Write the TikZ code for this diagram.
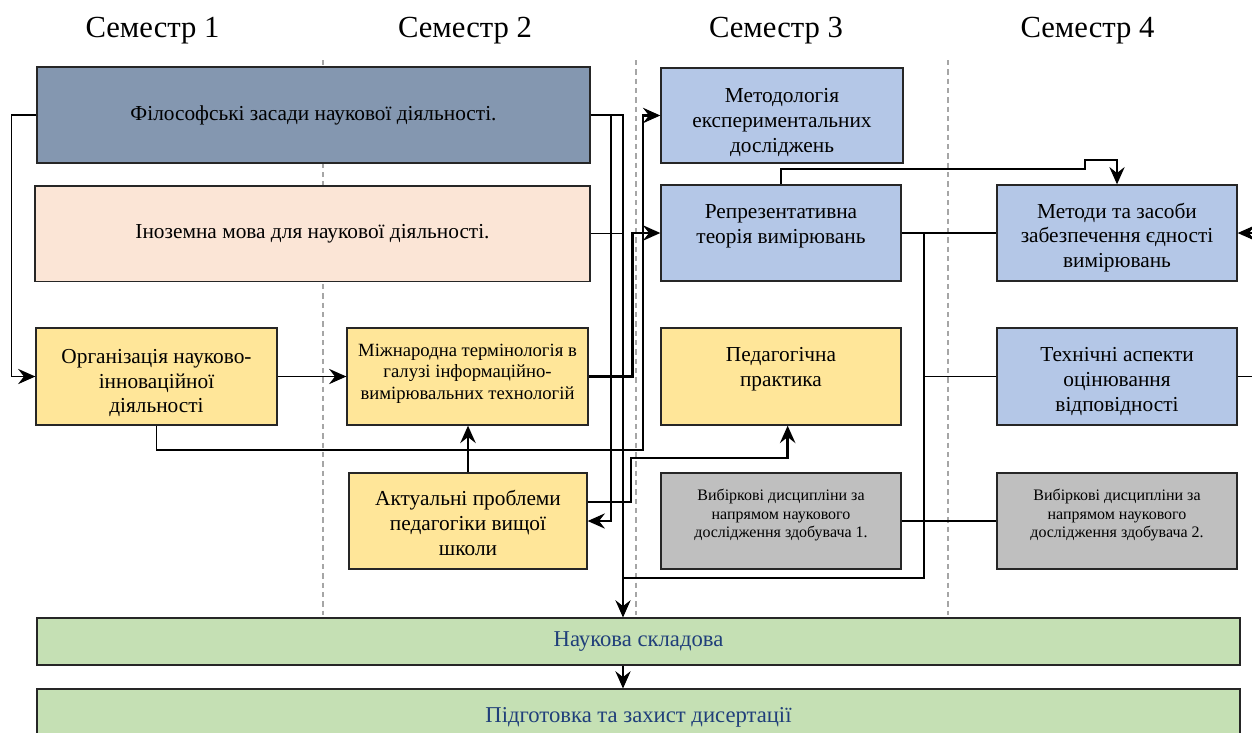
\documentclass[tikz,border=0pt]{standalone}
\usepackage{fontspec}
\setmainfont{Liberation Serif}
\usetikzlibrary{arrows.meta}
\definecolor{philc}{HTML}{8497B0}
\definecolor{forc}{HTML}{FBE5D6}
\definecolor{yelc}{HTML}{FFE699}
\definecolor{bluc}{HTML}{B4C7E7}
\definecolor{gryc}{HTML}{BFBFBF}
\definecolor{grnc}{HTML}{C5E0B4}
\definecolor{grntxt}{HTML}{203F7A}
\definecolor{edgec}{HTML}{262626}
\definecolor{dashc}{HTML}{A6A6A6}
\begin{document}
\begin{tikzpicture}[x=0.75pt,y=-0.75pt,
 box/.style={draw=edgec, line width=1pt, inner sep=0pt, minimum width=180pt, minimum height=72pt},
 wide/.style={box, minimum width=414.75pt, minimum height=71.5pt, font=\fontsize{16}{18.5}\selectfont},
 band/.style={draw=edgec, line width=0.8pt, fill=grnc, inner sep=0pt, minimum width=902.25pt, text=grntxt, font=\fontsize{17}{20}\selectfont},
 txt/.style={inner sep=0pt, align=center, font=\fontsize{16}{18.5}\selectfont},
 txtm/.style={txt, font=\fontsize{14}{16}\selectfont},
 txts/.style={txt, font=\fontsize{12}{14.2}\selectfont},
 sem/.style={inner sep=0pt, font=\fontsize{23}{26}\selectfont},
 conn/.style={draw=black, line width=0.9pt},
 thk/.style={draw=black, line width=2.2pt},
 arr/.style={-{Stealth[length=13pt,width=11.5pt,inset=4.5pt]}},
 sepline/.style={draw=dashc, line width=0.8pt, dash pattern=on 4pt off 3pt}
]
\useasboundingbox (0,0) rectangle (1252,732);

% semester separators
\draw[sepline] (323,60) -- (323,615);
\draw[sepline] (636,60) -- (636,615);
\draw[sepline] (948,60) -- (948,615);

% semester titles
\node[sem] (s1) at (152.5,31) {Семестр 1};
\node[sem] (s2) at (465,31) {Семестр 2};
\node[sem] (s3) at (776,31) {Семестр 3};
\node[sem] (s4) at (1087.5,31) {Семестр 4};

% wide boxes
\node[wide, fill=philc, minimum height=72pt] (phil) at (313.5,115) {Філософські засади наукової діяльності.};
\node[wide, fill=forc, minimum width=416.25pt] (forgn) at (312.5,233.5) {Іноземна мова для наукової діяльності.};

% semester 1-2 boxes
\node[box, fill=yelc, minimum width=180.75pt, minimum height=72.75pt] (org) at (156.5,376.5) {};
\node[txt] (t-org) at (156.5,383) {Організація науково-\\інноваційної\\діяльності};
\node[box, fill=yelc, minimum width=180.75pt, minimum height=72.75pt] (mizh) at (467.5,376.5) {};
\node[txtm] (t-mizh) at (467.5,373.5) {Міжнародна термінологія в\\галузі інформаційно-\\вимірювальних технологій};
\node[box, fill=yelc, minimum width=178.5pt] (actual) at (468,521) {};
\node[txt] (t-actual) at (468,523) {Актуальні проблеми\\педагогіки вищої\\школи};

% semester 3 boxes
\node[box, fill=bluc, minimum width=181.5pt, minimum height=71.25pt] (metod) at (782,115.5) {};
\node[txt] (t-metod) at (782,122.5) {Методологія\\експериментальних\\досліджень};
\node[box, fill=bluc] (repr) at (781,233) {};
\node[txt] (t-repr) at (781,226) {Репрезентативна\\теорія вимірювань};
\node[box, fill=yelc, minimum height=72.75pt] (ped) at (781,376.5) {};
\node[txt] (t-ped) at (781,369) {Педагогічна\\практика};
\node[box, fill=gryc] (vyb1) at (781,521) {};
\node[txts] (t-vyb1) at (781,515) {Вибіркові дисципліни за\\напрямом наукового\\дослідження здобувача 1.};

% semester 4 boxes
\node[box, fill=bluc] (metody) at (1117,233) {};
\node[txt] (t-metody) at (1117,237.5) {Методи та засоби\\забезпечення єдності\\вимірювань};
\node[box, fill=bluc, minimum height=72.75pt] (tech) at (1117,376.5) {};
\node[txt] (t-tech) at (1117,381.5) {Технічні аспекти\\оцінювання\\відповідності};
\node[box, fill=gryc] (vyb2) at (1117,521) {};
\node[txts] (t-vyb2) at (1117,515) {Вибіркові дисципліни за\\напрямом наукового\\дослідження здобувача 2.};

% bottom bands
\node[band, minimum height=35.25pt] (nauk) at (638.5,641.5) {Наукова складова};
\node[band, minimum height=42.75pt] (pidg) at (638.5,717.5) {Підготовка та захист дисертації};

% helper coordinates
\path (nauk.north) ++(-15.5,0) coordinate (nkin);
\coordinate (j1) at (623,450);
\coordinate (j2) at (670,458);
\coordinate (bus) at (924,233);
\coordinate (busb) at (924,578);
\coordinate (e1) at (1252,233);
\coordinate (e2) at (1252,376.5);

% connectors
\draw[conn,arr] (phil.west) -- ++(-25,0) |- (org.west);
\draw[conn,arr] (org.east) -- (mizh.west);
\draw[conn,arr] (phil.east) -| (611,521) -- (actual.east);
\draw[conn,arr] (phil.east) -| (nkin);
\draw[conn] (forgn.east) -- (forgn.east -| nkin);
\draw[thk,arr] (mizh.east) -- ++(43.5,0) |- (repr.west);
\draw[conn] (org.south) |- (j1);
\draw[thk,arr] (j1) -- (643,450) |- (metod.west);
\draw[conn] ([yshift=14.25pt]actual.east) -| (631,458) -- (j2);
\draw[thk,arr] (j2) -| ([xshift=5pt]ped.south);
\draw[thk,arr] (actual.north) -- (actual.north |- mizh.south);
\draw[conn,arr] (repr.north) |- (1085,169) |- (1117,160) -- (metody.north);
\draw[conn] (repr.east) -- (metody.west);
\draw[conn] (bus) -- (busb) -- (busb -| nkin);
\draw[conn] (tech.west) -- (tech.west -| bus);
\draw[conn] (vyb1.east) -- (vyb2.west);
\draw[conn,arr] (e1) -- (metody.east);
\draw[conn] (tech.east) -- (e2);
\draw[conn,arr] (nauk.south -| nkin) -- (pidg.north -| nkin);
\end{tikzpicture}
\end{document}
